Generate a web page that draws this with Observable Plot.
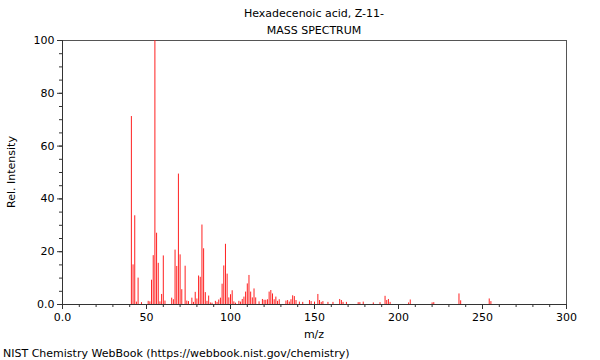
<!DOCTYPE html>
<html>
<head>
<meta charset="utf-8">
<script src="https://cdn.jsdelivr.net/npm/d3@7"></script>
<script src="https://cdn.jsdelivr.net/npm/@observablehq/plot@0.6"></script>
<style>
  body { margin: 0; background: white; }
  #wrap { position: relative; width: 600px; height: 360px; font-family: "DejaVu Sans", sans-serif; font-size: 11px; color: #000; }
  .lbl { position: absolute; white-space: nowrap; line-height: 1; }
</style>
</head>
<body>
<div id="wrap"></div>
<script>
// Peaks
const mz = [41,42,43,44,45,47,51,52,53,54,55,56,57,58,59,60,61,65,66,67,68,69,70,71,73,74,75,77,78,79,80,81,82,83,84,85,86,87,88,89,91,92,93,94,95,96,97,98,99,100,101,102,103,105,106,107,108,109,110,111,112,113,114,115,117,119,120,121,122,123,124,125,126,127,128,129,133,134,135,136,137,138,139,141,143,147,148,150,152,153,154,155,158,161,165,166,167,169,176,177,179,185,189,192,193,194,195,206,207,220,221,236,237,254,255];
const intensity = [71.2,15,33.6,0.9,10,0.7,1.2,1.0,9.2,18.5,100,27,15.6,1.0,3.8,18.4,1.3,2.4,1.8,20.6,14.4,49.4,18.8,5.6,14.5,1.3,1.1,2.4,0.8,4.6,2.1,10.8,10.3,30.1,21.1,4.5,1.2,3.2,0.6,0.5,1.2,0.8,1.7,2.4,7.7,14.6,22.8,11.5,2.5,3.7,5.2,1.0,0.5,1.2,0.9,1.9,2.8,4.7,7.8,11,4.7,2.5,5.9,2.5,1.0,1.9,1.6,1.6,1.8,4.7,5.3,4.0,1.8,2.8,1.2,1.8,1.3,1.5,0.9,1.8,3.3,3.0,1.5,0.9,0.8,1.5,1.1,0.9,3.8,1.5,0.8,1.1,0.8,0.8,1.9,1.5,0.8,0.8,0.7,0.7,0.9,0.6,0.7,3.1,1.5,1.9,0.8,0.6,1.7,0.6,0.7,4.0,1.4,2.1,1.1];

const xMajor = [0, 50, 100, 150, 200, 250, 300];
const xMajorLabels = ["0.0", "50", "100", "150", "200", "250", "300"];
const xMinor = [0,10,20,30,40,50,60,70,80,90,100,110,120,130,140,150,160,170,180,190,200,210,220,230,240,250,260,270,280,290,300];
const yMajor = [0, 20, 40, 60, 80, 100];
const yMajorLabels = ["0.0", "20", "40", "60", "80", "100"];
const yMinor = [0,5,10,15,20,25,30,35,40,45,50,55,60,65,70,75,80,85,90,95,100];

const titleLines = ["Hexadecenoic acid, Z-11-", "MASS SPECTRUM"];
const xTitle = "m/z";
const yTitle = "Rel. Intensity";
const caption = "NIST Chemistry WebBook (https://webbook.nist.gov/chemistry)";

const peaks = mz.map((m, i) => ({mz: m, intensity: intensity[i]}));
const xLab = new Map(xMajor.map((v, i) => [v, xMajorLabels[i]]));
const yLab = new Map(yMajor.map((v, i) => [v, yMajorLabels[i]]));

const chart = Plot.plot({
  width: 600,
  height: 360,
  marginTop: 40,
  marginRight: 34,
  marginBottom: 56,
  marginLeft: 62,
  style: {fontFamily: "DejaVu Sans, sans-serif", fontSize: "11px", background: "white", color: "#000", overflow: "visible"},
  x: {domain: [0, 300]},
  y: {domain: [0, 100]},
  marks: [
    Plot.frame({stroke: "#555"}),
    Plot.ruleX(peaks, {x: "mz", y1: 0, y2: "intensity", stroke: "#ff2020", strokeWidth: 1}),
    Plot.axisX({ticks: xMinor, tickSize: 3, tickFormat: () => "", label: null, stroke: "#333"}),
    Plot.axisX({ticks: xMajor, tickSize: 5, tickPadding: 4, tickFormat: d => xLab.get(d), label: null, stroke: "#333", fill: "#000"}),
    Plot.axisY({ticks: yMinor, tickSize: 3, tickFormat: () => "", label: null, stroke: "#333"}),
    Plot.axisY({ticks: yMajor, tickSize: 5, tickPadding: 3, tickFormat: d => yLab.get(d), label: null, stroke: "#333", fill: "#000"}),
    Plot.ruleY([0], {stroke: "#333"}),
    Plot.ruleX([0], {stroke: "#333"})
  ]
});

const wrap = document.getElementById("wrap");
wrap.appendChild(chart);
chart.style.position = "absolute";
chart.style.left = "0px";
chart.style.top = "0px";

function addLabel(text, css) {
  const d = document.createElement("div");
  d.className = "lbl";
  d.textContent = text;
  Object.assign(d.style, css);
  wrap.appendChild(d);
  return d;
}
addLabel(titleLines[0], {left: "314px", top: "13px", transform: "translate(-50%, -50%)"});
addLabel(titleLines[1], {left: "314px", top: "30px", transform: "translate(-50%, -50%)"});
addLabel(xTitle, {left: "314px", top: "334px", transform: "translate(-50%, -50%)"});
addLabel(yTitle, {left: "11px", top: "172px", transform: "translate(-50%, -50%) rotate(-90deg)"});
addLabel(caption, {left: "3px", top: "353px", transform: "translate(0, -50%)"});
</script>
</body>
</html>
